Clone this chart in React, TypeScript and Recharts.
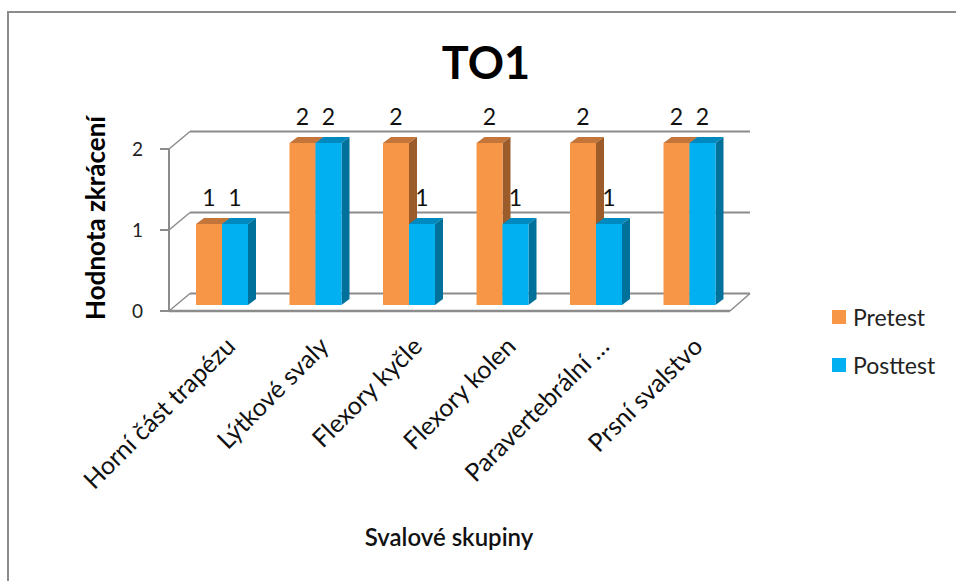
import React from "react";
import { BarChart, Bar, XAxis, YAxis, CartesianGrid, Legend, LabelList } from "recharts";

// Muscle groups and shortening scores
const categories = [
  "Horní část trapézu",
  "Lýtkové svaly",
  "Flexory kyčle",
  "Flexory kolen",
  "Paravertebrální …",
  "Prsní svalstvo",
];
const pretest = [1, 2, 2, 2, 2, 2];
const posttest = [1, 2, 1, 1, 1, 2];
const yTicks = [0, 1, 2];
const seriesOrder = ["Pretest", "Posttest"];

const data = categories.map((name, i) => ({ name, pretest: pretest[i], posttest: posttest[i] }));

const W = 956;
const H = 581;
const FONT = "Lato, 'Noto Sans', sans-serif";

// plot area = the plane the bar fronts sit in
const PLOT_LEFT = 175;
const PLOT_RIGHT = 736;
const PLOT_TOP = 143;
const PLOT_BOTTOM = 305;
const Y_AXIS_W = 60;
const X_AXIS_H = 100;

// offsets of the front and back planes of the 3D box
const FRONT_DX = -6;
const FRONT_DY = 6;
const BACK_DX = 15;
const BACK_DY = -11.5;
const FRAME = "#8c8c8c";

// bar depth
const DEPTH_X = 8;
const DEPTH_Y = 6;

const ORANGE = { front: "#F79646", top: "#C4753A", side: "#9C5B2B" };
const BLUE = { front: "#00B0F0", top: "#0089BF", side: "#00719B" };

const makeBarShape = (c: { front: string; top: string; side: string }) => (props: any) => {
  const { x, y, width, height } = props;
  if (!height || height <= 0) return <g />;
  const top = `${x},${y} ${x + DEPTH_X},${y - DEPTH_Y} ${x + width + DEPTH_X},${y - DEPTH_Y} ${x + width},${y}`;
  const side = `${x + width},${y} ${x + width + DEPTH_X},${y - DEPTH_Y} ${x + width + DEPTH_X},${y + height - DEPTH_Y} ${x + width},${y + height}`;
  return (
    <g>
      <polygon points={top} fill={c.top} />
      <polygon points={side} fill={c.side} />
      <rect x={x} y={y} width={width} height={height} fill={c.front} />
    </g>
  );
};

// back wall gridlines, wall diagonals, floor and front axis
const gridLine = (props: any) => {
  const { x1, x2, y1, key } = props;
  const y = y1;
  const isFloor = Math.abs(y - PLOT_BOTTOM) < 1;
  return (
    <g key={key}>
      <line x1={x1 + BACK_DX} y1={y + BACK_DY} x2={x2 + BACK_DX - 1} y2={y + BACK_DY} stroke={FRAME} strokeWidth={2} />
      <line x1={x1 + FRONT_DX} y1={y + FRONT_DY} x2={x1 + BACK_DX} y2={y + BACK_DY} stroke={FRAME} strokeWidth={1.5} />
      <line x1={x1 + FRONT_DX - 9} y1={y + FRONT_DY} x2={x1 + FRONT_DX} y2={y + FRONT_DY} stroke={FRAME} strokeWidth={2} />
      {isFloor && (
        <g>
          <line x1={x1 + FRONT_DX} y1={y + FRONT_DY} x2={x2 + FRONT_DX} y2={y + FRONT_DY} stroke={FRAME} strokeWidth={2.5} />
          <line x1={x2 + FRONT_DX} y1={y + FRONT_DY} x2={x2 + BACK_DX - 1} y2={y + BACK_DY} stroke={FRAME} strokeWidth={1.5} />
          <line x1={x1 + FRONT_DX} y1={PLOT_TOP + FRONT_DY} x2={x1 + FRONT_DX} y2={y + FRONT_DY} stroke={FRAME} strokeWidth={2} />
        </g>
      )}
    </g>
  );
};

const YTick = (props: any) => {
  const { y, payload } = props;
  return (
    <text x={143} y={y + FRONT_DY} dy="0.36em" textAnchor="end" fontSize={19} fill="#222" fontFamily={FONT}>
      {payload.value}
    </text>
  );
};

const XTick = (props: any) => {
  const { x, payload } = props;
  return (
    <text
      transform={`translate(${x + 15},${PLOT_BOTTOM + 43}) rotate(-45)`}
      textAnchor="end"
      fontSize={25}
      fill="#111"
      fontFamily={FONT}
    >
      {payload.value}
    </text>
  );
};

const ValueLabel = (props: any) => {
  const { x, y, width, value } = props;
  return (
    <text x={x + width / 2} y={y - 18} textAnchor="middle" fontSize={23} fill="#111" fontFamily={FONT}>
      {value}
    </text>
  );
};

const LegendContent = (props: any) => {
  const items = [...(props.payload || [])].sort(
    (a: any, b: any) => seriesOrder.indexOf(a.value) - seriesOrder.indexOf(b.value)
  );
  return (
    <div style={{ fontFamily: FONT }}>
      {items.map((it: any, i: number) => (
        <div key={i} style={{ display: "flex", alignItems: "center", height: 48 }}>
          <span style={{ width: 14, height: 14, background: it.color, display: "inline-block", marginRight: 7 }} />
          <span style={{ fontSize: 23, color: "#222" }}>{it.value}</span>
        </div>
      ))}
    </div>
  );
};

export default function App() {
  return (
    <div style={{ position: "absolute", left: 0, top: 0, width: W, height: H, overflow: "hidden", background: "#fff", fontFamily: FONT }}>
      <div
        style={{
          position: "absolute",
          left: 7,
          top: 11,
          width: W + 20,
          height: H + 20,
          borderLeft: `2px solid ${FRAME}`,
          borderTop: `2px solid ${FRAME}`,
        }}
      />
      <div style={{ position: "absolute", left: 0, top: 0 }}>
        <BarChart
          width={W}
          height={H}
          data={data}
          margin={{ top: PLOT_TOP, left: PLOT_LEFT - Y_AXIS_W, right: W - PLOT_RIGHT, bottom: H - PLOT_BOTTOM - X_AXIS_H }}
          barGap={0}
          barSize={26}
        >
          <CartesianGrid vertical={false} horizontal={gridLine} />
          <XAxis dataKey="name" height={X_AXIS_H} axisLine={false} tickLine={false} tick={<XTick />} interval={0} />
          <YAxis width={Y_AXIS_W} domain={[0, 2]} ticks={yTicks} axisLine={false} tickLine={false} tick={<YTick />} />
          <Legend
            layout="vertical"
            align="center"
            verticalAlign="middle"
            itemSorter={null}
            content={<LegendContent />}
            wrapperStyle={{ left: 832, top: 293, width: 124, height: 100 }}
          />
          <Bar dataKey="pretest" name="Pretest" fill={ORANGE.front} shape={makeBarShape(ORANGE)} isAnimationActive={false}>
            <LabelList dataKey="pretest" content={<ValueLabel />} />
          </Bar>
          <Bar dataKey="posttest" name="Posttest" fill={BLUE.front} shape={makeBarShape(BLUE)} isAnimationActive={false}>
            <LabelList dataKey="posttest" content={<ValueLabel />} />
          </Bar>
        </BarChart>
      </div>
      <div
        style={{ position: "absolute", left: 386, top: 32, width: 200, textAlign: "center", fontSize: 45, fontWeight: 700, color: "#000", lineHeight: "60px" }}
      >
        TO1
      </div>
      <div
        style={{
          position: "absolute",
          left: 95,
          top: 218,
          transform: "translate(-50%, -50%) rotate(-90deg)",
          whiteSpace: "nowrap",
          fontSize: 26,
          fontWeight: 700,
          color: "#000",
        }}
      >
        Hodnota zkrácení
      </div>
      <div
        style={{
          position: "absolute",
          left: 449,
          top: 536,
          transform: "translate(-50%, -50%)",
          whiteSpace: "nowrap",
          fontSize: 24,
          fontWeight: 600,
          color: "#111",
        }}
      >
        Svalové skupiny
      </div>
    </div>
  );
}
